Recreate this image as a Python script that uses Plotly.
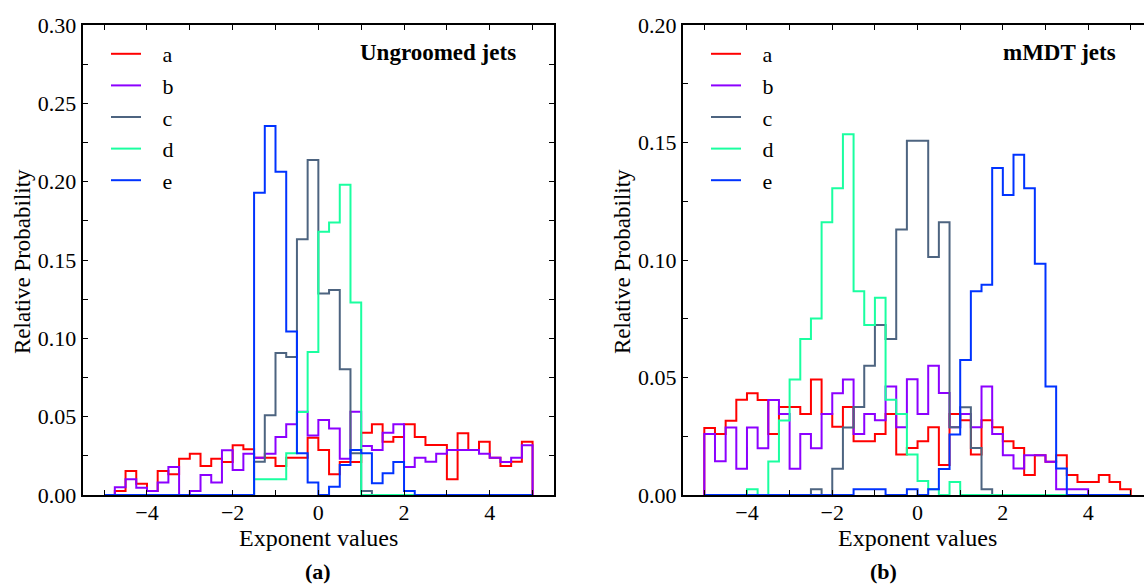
import numpy as np
import plotly.graph_objects as go

# ---------------- data ----------------
bin_edges = np.linspace(-5.0, 5.0, 41)          # 40 bins of width 0.25
series_labels = ["a", "b", "c", "d", "e"]
series_colors = ["#ff0000", "#8c00ff", "#4d6480", "#1affa0", "#0033ff"]

# (a) Ungroomed jets
ungroomed_a = [0, 0.0026, 0.0153, 0.0072, 0.0026, 0.0153, 0.0132, 0.0232, 0.0264, 0.0185,
               0.0232, 0.0211, 0.0317, 0.0292, 0.0238, 0.0238, 0.0185, 0.0238, 0.0238, 0.0366,
               0.0287, 0.0132, 0.0211, 0.0211, 0.0398, 0.0451, 0.0340, 0.0370, 0.0451, 0.0370,
               0.0319, 0.0319, 0.0100, 0.0394, 0.0287, 0.0340, 0.0238, 0.0185, 0.0213, 0.0340]
ungroomed_b = [0, 0.0050, 0.0100, 0.0047, 0.0026, 0.0079, 0.0179, 0, 0.0026, 0.0128,
               0.0079, 0.0285, 0.0160, 0.0264, 0.0238, 0.0264, 0.0370, 0.0451, 0.0532, 0.0380,
               0.0479, 0.0424, 0.0232, 0.0532, 0.0313, 0.0287, 0.0398, 0.0451, 0.0179, 0.0238,
               0.0213, 0.0264, 0.0287, 0.0287, 0.0287, 0.0264, 0.0238, 0.0211, 0.0238, 0.0317]
ungroomed_c = [0, 0, 0, 0, 0, 0, 0, 0, 0, 0,
               0, 0, 0, 0, 0.0213, 0.0509, 0.0907, 0.0881, 0.1633, 0.2139,
               0.1286, 0.1309, 0.0802, 0.0266, 0.0026, 0, 0, 0, 0, 0,
               0, 0, 0, 0, 0, 0, 0, 0, 0, 0]
ungroomed_d = [0, 0, 0, 0, 0, 0, 0, 0, 0, 0,
               0, 0, 0, 0, 0.0100, 0.0100, 0.0100, 0.0266, 0.0530, 0.0913,
               0.1681, 0.1739, 0.1980, 0.1228, 0, 0, 0, 0, 0, 0,
               0, 0, 0, 0, 0, 0, 0, 0, 0, 0]
ungroomed_e = [0, 0, 0, 0, 0, 0, 0, 0, 0, 0,
               0, 0, 0, 0, 0.1930, 0.2356, 0.2063, 0.1043, 0.0266, 0.0079,
               0, 0.0053, 0.0192, 0.0287, 0.0266, 0.0075, 0.0139, 0.0211, 0.0026, 0,
               0, 0, 0, 0, 0, 0, 0, 0, 0, 0]

# (b) mMDT jets
mmdt_a = [0.0285, 0.0260, 0.0316, 0.0405, 0.0433, 0.0404, 0.0260, 0.0375, 0.0375, 0.0345,
          0.0492, 0.0345, 0.0290, 0.0375, 0.0229, 0.0229, 0.0260, 0.0345, 0.0172, 0.0200,
          0.0229, 0.0288, 0.0128, 0.0345, 0.0318, 0.0172, 0.0318, 0.0288, 0.0229, 0.0200,
          0.0085, 0.0169, 0.0141, 0.0169, 0.0085, 0.0055, 0.0055, 0.0085, 0.0055, 0.0024]
mmdt_b = [0.0260, 0.0144, 0.0287, 0.0112, 0.0287, 0.0199, 0.0404, 0.0345, 0.0112, 0.0260,
          0.0199, 0.0345, 0.0433, 0.0492, 0.0260, 0.0345, 0.0318, 0.0462, 0.0288, 0.0493,
          0.0345, 0.0550, 0.0434, 0.0288, 0.0345, 0.0288, 0.0462, 0.0260, 0.0169, 0.0113,
          0.0169, 0.0169, 0.0141, 0.0024, 0.0024, 0.0024, 0, 0, 0, 0]
mmdt_c = [0, 0, 0, 0, 0, 0, 0, 0, 0, 0,
          0.0024, 0, 0.0112, 0.0287, 0.0374, 0.0550, 0.0723, 0.0664, 0.1130, 0.1507,
          0.1507, 0.1013, 0.1161, 0.0288, 0.0373, 0.0200, 0.0024, 0, 0, 0,
          0, 0, 0, 0, 0, 0, 0, 0, 0, 0]
mmdt_d = [0, 0, 0, 0, 0.0024, 0, 0.0143, 0.0317, 0.0492, 0.0664,
          0.0751, 0.1161, 0.1305, 0.1535, 0.0867, 0.0723, 0.0839, 0.0405, 0.0345, 0.0172,
          0.0060, 0.0024, 0, 0.0055, 0, 0, 0, 0, 0, 0,
          0, 0, 0, 0, 0, 0, 0, 0, 0, 0]
mmdt_e = [0, 0, 0, 0, 0, 0, 0, 0, 0, 0,
          0, 0, 0, 0, 0.0024, 0.0024, 0.0024, 0, 0, 0.0024,
          0, 0.0024, 0.0111, 0.0257, 0.0575, 0.0867, 0.0895, 0.1391, 0.1277, 0.1448,
          0.1305, 0.0984, 0.0462, 0.0113, 0, 0, 0, 0, 0, 0]

ungroomed = [ungroomed_a, ungroomed_b, ungroomed_c, ungroomed_d, ungroomed_e]
mmdt = [mmdt_a, mmdt_b, mmdt_c, mmdt_d, mmdt_e]

panel_titles = ["Ungroomed jets", "mMDT jets"]
sub_captions = ["(a)", "(b)"]
x_title = "Exponent values"
y_title = "Relative Probability"

# ---------------- figure ----------------
W, H = 1144, 585
FONT = "Liberation Serif, Times New Roman, serif"

def step_xy(counts):
    x = np.concatenate([[bin_edges[0]], bin_edges[:-1], [bin_edges[-1]]])
    y = np.concatenate([[0.0], np.asarray(counts, float), [0.0]])
    return x, y

fig = go.Figure()
for panel, (data, xa, ya, leg) in enumerate([(ungroomed, "x", "y", "legend"),
                                              (mmdt, "x2", "y2", "legend2")]):
    for i, counts in enumerate(data):
        x, y = step_xy(counts)
        fig.add_trace(go.Scatter(
            x=x, y=y, mode="lines", line=dict(shape="hv", color=series_colors[i], width=2),
            name="\u00a0\u00a0\u00a0" + series_labels[i], xaxis=xa, yaxis=ya, legend=leg,
            legendgroup=f"p{panel}{i}", hoverinfo="skip"))

def px(v):
    return v / W

def py(v):
    return 1 - v / H

y_dom = [py(495), py(25)]
axis_common = dict(showline=True, linecolor="black", linewidth=2, ticks="inside",
                   ticklen=5, tickwidth=1, tickcolor="black", showgrid=False, zeroline=False,
                   automargin=False,
                   tickfont=dict(family=FONT, size=22, color="black"))

fig.update_layout(
    width=W, height=H, margin=dict(l=0, r=0, t=0, b=0, autoexpand=False), autosize=False,
    plot_bgcolor="white", paper_bgcolor="white",
    xaxis=dict(domain=[px(82.7), px(554)], range=[-5.5, 5.5], dtick=2, tick0=0,
               mirror="allticks", ticklabelstandoff=-3,
               minor=dict(dtick=1, ticks="inside", ticklen=5, tickcolor="black"),
               anchor="y", **axis_common),
    yaxis=dict(domain=y_dom, range=[0, 0.30], dtick=0.05, tickformat=".2f",
               mirror="allticks", minor=dict(dtick=0.025, ticks="inside", ticklen=5,
                                             tickcolor="black"), anchor="x", **axis_common),
    xaxis2=dict(domain=[px(683), 1.0], range=[-5.5, 5.31], dtick=2, tick0=0,
                mirror="allticks", ticklabelstandoff=-3,
                minor=dict(dtick=1, ticks="inside", ticklen=5, tickcolor="black"),
                anchor="y2", **axis_common),
    yaxis2=dict(domain=y_dom, range=[0, 0.20], dtick=0.05, tickformat=".2f",
                mirror=False, minor=dict(dtick=0.025, ticks="inside", ticklen=5,
                                         tickcolor="black"), anchor="x2", **axis_common),
    legend=dict(x=px(106), y=py(33), xanchor="left", yanchor="top",
                bgcolor="rgba(0,0,0,0)", tracegroupgap=0,
                font=dict(family=FONT, size=22, color="black")),
    legend2=dict(x=px(706), y=py(33), xanchor="left", yanchor="top",
                 bgcolor="rgba(0,0,0,0)", tracegroupgap=0,
                 font=dict(family=FONT, size=22, color="black")),
    showlegend=True,
)

ann_font = dict(family=FONT, size=23, color="black")
xt_font = dict(family=FONT, size=24, color="black")
small_font = dict(family=FONT, size=22, color="black")
annotations = [
    dict(text=f"<b>{panel_titles[0]}</b>", x=px(518), y=py(52), xanchor="right", yanchor="middle", font=ann_font),
    dict(text=f"<b>{panel_titles[1]}</b>", x=px(1118), y=py(52), xanchor="right", yanchor="middle", font=ann_font),
    dict(text=x_title, x=px(318), y=py(538), xanchor="center", yanchor="middle", font=xt_font),
    dict(text=x_title, x=px(917), y=py(538), xanchor="center", yanchor="middle", font=xt_font),
    dict(text=y_title, x=px(22), y=py(262), xanchor="center", yanchor="middle", textangle=-90, font=ann_font),
    dict(text=y_title, x=px(622), y=py(262), xanchor="center", yanchor="middle", textangle=-90, font=ann_font),
    dict(text=f"<b>{sub_captions[0]}</b>", x=px(318), y=py(571), xanchor="center", yanchor="middle", font=small_font),
    dict(text=f"<b>{sub_captions[1]}</b>", x=px(883), y=py(571), xanchor="center", yanchor="middle", font=small_font),
]
for a in annotations:
    a.update(xref="paper", yref="paper", showarrow=False)
fig.update_layout(annotations=annotations)

fig.write_html("out.html",
               config={"displayModeBar": False},
               post_script="document.body.style.margin='0px';"
                           "document.body.style.overflow='hidden';")
